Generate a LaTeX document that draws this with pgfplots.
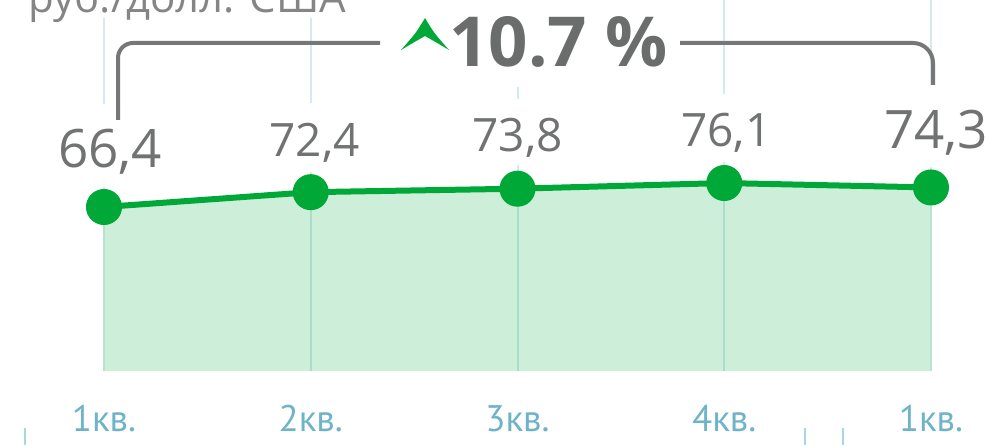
\documentclass[border=0pt]{standalone}
\usepackage{pgfplots}
\pgfplotsset{compat=1.18}
\usepackage{fontspec}
\setmainfont{Open Sans}
\newfontfamily\narrowfont{PT Sans}
\definecolor{valgray}{HTML}{707372}
\definecolor{biggray}{HTML}{6A6D6C}
\definecolor{unitgray}{HTML}{858585}
\definecolor{linegreen}{HTML}{00A838}
\definecolor{fillgreen}{HTML}{CDEED8}
\definecolor{gridblue}{HTML}{D3EAF1}
\definecolor{gridfill}{HTML}{A9DCCB}
\definecolor{ticklab}{HTML}{6FB3C9}
\definecolor{tickmark}{HTML}{A6D8E4}
\definecolor{bracket}{HTML}{777777}
\begin{document}
\begin{tikzpicture}
\useasboundingbox (0,0) rectangle (498pt,222.5pt);
\begin{axis}[
  at={(52pt,37pt)}, anchor=south west,
  scale only axis, width=413.5pt, height=185.5pt,
  xmin=0, xmax=4, ymin=0, ymax=150.2,
  clip=false,
  axis line style={draw=none},
  tick style={draw=none},
  ytick=\empty,
  xtick={0,1,2,3,4},
  xticklabels={1кв.,2кв.,3кв.,4кв.,1кв.},
  xticklabel style={font=\narrowfont\fontsize{18.5pt}{20pt}\selectfont, text=ticklab, anchor=base, yshift=-30pt},
  xmajorgrids,
  major grid style={draw=gridblue, line width=1pt},
]
\addplot[fill=fillgreen, draw=none] coordinates {(0,66.4) (1,72.4) (2,73.8) (3,76.1) (4,74.3)} \closedcycle;
\draw[gridfill, line width=1pt] (axis cs:1,0) -- (axis cs:1,72.4);
\draw[gridfill, line width=1pt] (axis cs:2,0) -- (axis cs:2,73.8);
\draw[gridfill, line width=1pt] (axis cs:3,0) -- (axis cs:3,76.1);
\draw[gridfill!60!fillgreen, line width=1pt] (axis cs:0,0) -- (axis cs:0,66.4);
\draw[gridfill!60!fillgreen, line width=1pt] (axis cs:4,0) -- (axis cs:4,74.3);
\addplot[linegreen, line width=3pt, mark=*, mark size=7.5pt, mark options={fill=linegreen, draw=none}] coordinates {(0,66.4) (1,72.4) (2,73.8) (3,76.1) (4,74.3)};
\node[anchor=base, fill=white, inner xsep=3pt, inner ysep=0pt, text height=32pt, text depth=9.5pt, font=\fontsize{26.5pt}{28pt}\selectfont, text=valgray, xshift=3pt, yshift=19.5pt] at (axis cs:0,66.4) {66,4};
\node[anchor=base, fill=white, inner xsep=3pt, inner ysep=0pt, text height=26.5pt, text depth=8pt, font=\fontsize{23pt}{25pt}\selectfont, text=valgray, xshift=2pt, yshift=18pt] at (axis cs:1,72.4) {72,4};
\node[anchor=base, fill=white, inner xsep=3pt, inner ysep=0pt, text height=26.5pt, text depth=6.5pt, font=\fontsize{23pt}{25pt}\selectfont, text=valgray, xshift=0pt, yshift=18.5pt] at (axis cs:2,73.8) {73,8};
\node[anchor=base, fill=white, inner xsep=3pt, inner ysep=0pt, text height=26pt, text depth=8pt, font=\fontsize{23pt}{25pt}\selectfont, text=valgray, xshift=1pt, yshift=18.5pt] at (axis cs:3,76.1) {76,1};
\node[anchor=base, fill=white, inner xsep=3pt, inner ysep=0pt, text height=31.5pt, text depth=9.5pt, font=\fontsize{26.5pt}{28pt}\selectfont, text=valgray, xshift=2.5pt, yshift=19.5pt] at (axis cs:4,74.3) {74,3};
\end{axis}
% unit caption (cut at the top, as in the reference)
\node[anchor=base west, fill=white, inner sep=0pt, text depth=2.5pt, text=unitgray, font=\fontsize{21pt}{24pt}\selectfont] at (14pt,216pt) {руб./долл. США};
% change annotation
\fill[white] (192pt,179pt) rectangle (338pt,222.5pt);
\draw[bracket, line width=2pt, rounded corners=7.5pt] (59pt,162.5pt) -- (59pt,201pt) -- (190pt,201pt);
\draw[bracket, line width=2pt, rounded corners=10pt] (340pt,201pt) -- (466.5pt,201pt) -- (466.5pt,180pt);
\fill[linegreen] (212.5pt,213.5pt) .. controls (217pt,206pt) .. (224.5pt,197.5pt)
  .. controls (219.5pt,200.5pt) .. (212.5pt,204.5pt)
  .. controls (205.5pt,200.5pt) .. (200.5pt,197.5pt)
  .. controls (208pt,206pt) .. cycle;
\node[anchor=base west, inner sep=0pt, text=biggray, font=\bfseries\fontsize{34.5pt}{36pt}\selectfont] at (224.5pt,189pt) {10.7 \%};
% year separator ticks
\draw[tickmark, line width=1pt] (12.5pt,0pt) -- (12.5pt,8.5pt);
\draw[tickmark, line width=1pt] (402.5pt,0pt) -- (402.5pt,8.5pt);
\draw[tickmark, line width=1pt] (421.5pt,0pt) -- (421.5pt,8.5pt);
\end{tikzpicture}
\end{document}
